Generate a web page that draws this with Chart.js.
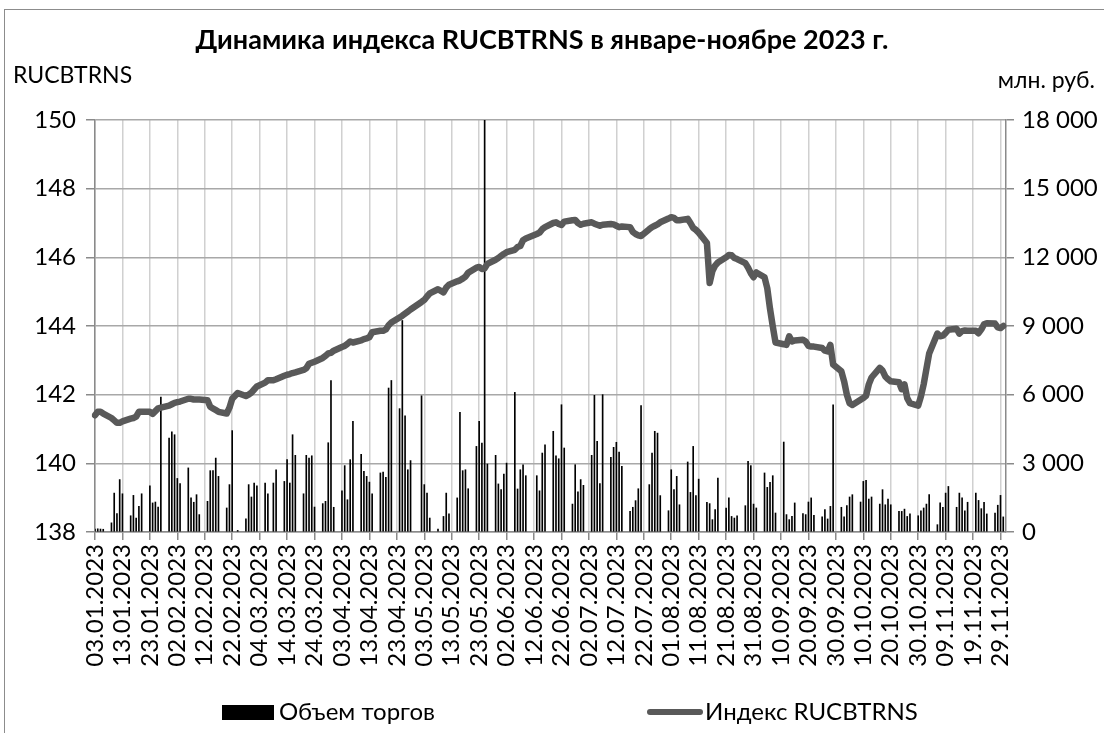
<!DOCTYPE html>
<html lang="ru">
<head>
<meta charset="utf-8">
<title>Динамика индекса RUCBTRNS</title>
<script src="https://cdn.jsdelivr.net/npm/chart.js@4.4.1/dist/chart.umd.min.js"></script>
<style>
  html, body { margin: 0; padding: 0; background: #fff; overflow: hidden; }
  #wrap { position: relative; width: 1104px; height: 733px; }
  #frame { position: absolute; left: 4px; top: 9px; width: 1200px; height: 800px; border: 1px solid #8c8c8c; pointer-events: none; }
</style>
</head>
<body>
<div id="wrap">
  <canvas id="chart" width="1104" height="733"></canvas>
  <div id="frame"></div>
</div>
<script>
// нерабочие будни биржи
const holidays = ['23.02', '08.03', '01.05', '09.05', '12.06'];

// индекс RUCBTRNS по торговым дням, построчно по неделям
const indexValues = [
  141.40, 141.50, 141.50, 141.45,
  141.32, 141.25, 141.18, 141.18, 141.22,
  141.30, 141.32, 141.36, 141.50, 141.50,
  141.50, 141.44, 141.52, 141.60, 141.62,
  141.68, 141.72, 141.76, 141.78, 141.80,
  141.88, 141.88, 141.86, 141.86, 141.86,
  141.84, 141.65, 141.60, 141.55, 141.50,
  141.45, 141.62, 141.88, 142.05,
  141.96, 142.00, 142.06, 142.15, 142.24,
  142.35, 142.42, 142.42, 142.45,
  142.55, 142.58, 142.60, 142.63, 142.65,
  142.72, 142.77, 142.90, 142.93, 142.96,
  143.07, 143.13, 143.20, 143.22, 143.28,
  143.39, 143.42, 143.48, 143.55, 143.52,
  143.58, 143.62, 143.64, 143.67, 143.82,
  143.86, 143.86, 143.90, 144.02, 144.10,
  144.25, 144.30, 144.36, 144.42, 144.48,
  144.70, 144.76, 144.86, 144.95,
  145.07, 144.98, 145.12, 145.20,
  145.30, 145.33, 145.38, 145.44, 145.55,
  145.70, 145.72, 145.66, 145.68, 145.81,
  145.93, 145.98, 146.04, 146.10, 146.15,
  146.22, 146.30, 146.33, 146.50, 146.55,
  146.68, 146.72, 146.82, 146.88,
  147.00, 147.02, 146.97, 146.94, 147.04,
  147.08, 147.09, 147.00, 146.95, 146.98,
  147.02, 146.98, 146.95, 146.92, 146.95,
  146.97, 146.96, 146.92, 146.88, 146.90,
  146.88, 146.74, 146.68, 146.64, 146.62,
  146.82, 146.88, 146.92, 146.96, 147.02,
  147.13, 147.17, 147.15, 147.08, 147.08,
  147.12, 147.00, 146.86, 146.80, 146.72,
  146.42, 145.25, 145.60, 145.76, 145.85,
  146.00, 146.07, 146.06, 145.98, 145.95,
  145.83, 145.70, 145.54, 145.42, 145.56,
  145.42, 145.10, 144.50, 143.99, 143.52,
  143.47, 143.45, 143.70, 143.55, 143.58,
  143.60, 143.55, 143.42, 143.40, 143.40,
  143.36, 143.28, 143.26, 143.45, 142.88,
  142.68, 142.39, 142.00, 141.75, 141.70,
  141.85, 141.90, 141.97, 142.30, 142.50,
  142.78, 142.70, 142.53, 142.45, 142.39,
  142.36, 142.16, 142.30, 141.90, 141.75,
  141.68, 141.95, 142.30, 142.75, 143.20,
  143.78, 143.70, 143.72, 143.80, 143.89,
  143.92, 143.78, 143.85, 143.87, 143.86,
  143.86, 143.79, 143.90, 144.05, 144.08,
  144.07, 143.96, 143.94, 144.00
];

// объем торгов, млн руб.
const volumeValues = [
  130, 140, 130, 120,
  400, 1700, 800, 2290, 1670,
  710, 1600, 610, 1120, 1670,
  2020, 1270, 1310, 1090, 5900,
  4100, 4380, 4250, 2340, 2110,
  2800, 1490, 1300, 1630, 760,
  1340, 2680, 2680, 3230, 2430,
  1050, 2070, 4430, 70,
  570, 2070, 1530, 2140, 2020,
  2140, 1670, 2140, 2720,
  2210, 3160, 2140, 4250, 3350,
  1670, 3350, 3230, 3330, 1090,
  1240, 1340, 3900, 6620, 1080,
  1800, 2900, 1410, 3160, 4830,
  3390, 2650, 2430, 2180, 1670,
  2580, 2620, 2390, 6290, 6620,
  5390, 9240, 5080, 2720, 3120,
  5950, 2070, 1700, 610,
  130, 680, 1700, 790,
  1490, 5230, 2680, 2720, 1890,
  3740, 4830, 3890, 21000, 2970,
  3350, 2100, 1850, 2530, 3010,
  6100, 1880, 2720, 2940, 2460,
  2460, 1800, 3450, 3810,
  4400, 3330, 3200, 5560, 3670,
  1220, 2940, 1750, 2290, 2040,
  3350, 5970, 3960, 2110, 6000,
  3260, 3700, 3920, 3490, 2870,
  900, 1080, 1370, 1890, 5520,
  2070, 3450, 4400, 4320, 1590,
  930, 2720, 1850, 2430, 1190,
  3060, 1730, 3740, 1590, 2310,
  1300, 1240, 540, 980, 2360,
  1050, 1490, 680, 610, 710,
  1150, 3090, 2900, 1220, 1050,
  2580, 1950, 2170, 2460, 830,
  3930, 760, 540, 680, 1270,
  800, 760, 1310, 1490, 730,
  660, 980, 570, 1120, 5560,
  1080, 660, 1150, 1530, 1630,
  1310, 2210, 2260, 1440, 1530,
  1220, 1850, 1190, 1440, 1190,
  900, 900, 1000, 680, 790,
  710, 930, 1050, 1220, 1630,
  320, 1270, 1080, 1700, 1990,
  1080, 1700, 1490, 930, 1300,
  1700, 1380, 1020, 1300, 790,
  830, 1170, 1600, 660
];

const FONT = "Lato, 'Open Sans', sans-serif";
const TITLE = 'Динамика индекса RUCBTRNS в январе-ноябре 2023 г.';

// календарная ось: 03.01.2023 - 01.12.2023
const labels = [];
const tradePos = [];
const lastTrade = new Date(2023, 10, 30);
for (let i = 0; i < 333; i++) {
  const dt = new Date(2023, 0, 3 + i);
  const dm = String(dt.getDate()).padStart(2, '0') + '.' + String(dt.getMonth() + 1).padStart(2, '0');
  labels.push(dm + '.2023');
  const wd = dt.getDay();
  if (wd !== 0 && wd !== 6 && !holidays.includes(dm) && dt <= lastTrade) tradePos.push(i);
}

const volData = labels.map(() => null);
const idxData = labels.map(() => null);
tradePos.forEach((p, k) => { volData[p] = volumeValues[k]; idxData[p] = indexValues[k]; });

const fmt = v => String(v).replace(/\B(?=(\d{3})+(?!\d))/g, ' ');

// заголовок, подписи осей и легенда
const extras = {
  id: 'extras',
  afterDraw(chart) {
    const ctx = chart.ctx;
    ctx.save();
    ctx.fillStyle = '#000';
    ctx.textBaseline = 'middle';

    ctx.font = `bold 27px ${FONT}`;
    ctx.textAlign = 'center';
    ctx.fillText(TITLE, 542, 40);

    ctx.font = `23px ${FONT}`;
    ctx.textAlign = 'left';
    ctx.fillText('RUCBTRNS', 13, 76);
    ctx.textAlign = 'right';
    ctx.fillText('млн. руб.', 1095, 81);

    // легенда
    const y = 712;
    ctx.font = `24px ${FONT}`;
    ctx.textAlign = 'left';
    ctx.fillRect(222, y - 7, 52, 15);
    ctx.fillText(chart.data.datasets[0].label, 279, y);
    ctx.strokeStyle = chart.data.datasets[1].borderColor;
    ctx.lineWidth = 6;
    ctx.lineCap = 'round';
    ctx.beginPath();
    ctx.moveTo(650, y);
    ctx.lineTo(700, y);
    ctx.stroke();
    ctx.fillText(chart.data.datasets[1].label, 705, y);
    ctx.restore();
  }
};

new Chart(document.getElementById('chart'), {
  type: 'bar',
  data: {
    labels: labels,
    datasets: [{
      type: 'bar',
      label: 'Объем торгов',
      data: volData,
      yAxisID: 'y1',
      backgroundColor: '#000',
      barThickness: 1,
      order: 1
    }, {
      type: 'line',
      label: 'Индекс RUCBTRNS',
      data: idxData,
      yAxisID: 'y',
      borderColor: '#595959',
      borderWidth: 6.5,
      pointRadius: 0,
      tension: 0,
      spanGaps: true,
      borderJoinStyle: 'round',
      borderCapStyle: 'round',
      order: 0
    }]
  },
  options: {
    responsive: false,
    animation: false,
    layout: { padding: { left: 0, right: 0, top: 120, bottom: 0 } },
    plugins: {
      legend: { display: false },
      tooltip: { enabled: false },
      title: { display: false }
    },
    scales: {
      x: {
        offset: false,
        grid: {
          offset: false,
          lineWidth: 1.5,
          tickLength: 8,
          color: c => (c.index % 10 === 0 ? '#d0d0d0' : 'transparent'),
          tickColor: c => (c.index % 10 === 0 ? '#8a8a8a' : 'transparent')
        },
        border: { color: '#8a8a8a', width: 1.5 },
        ticks: {
          autoSkip: false,
          minRotation: 90,
          maxRotation: 90,
          padding: 4,
          color: '#000',
          font: { family: FONT, size: 24 },
          callback: (v, i) => (i % 10 === 0 ? labels[i] : '')
        },
        afterFit: s => { s.height = 201; }
      },
      y: {
        position: 'left',
        min: 138,
        max: 150,
        ticks: { stepSize: 2, padding: 10, color: '#000', font: { family: FONT, size: 24 } },
        grid: { color: '#a8a8a8', lineWidth: 1.5, tickLength: 9, tickColor: '#8a8a8a' },
        border: { color: '#8a8a8a', width: 1.5 },
        afterFit: s => { s.width = 95; }
      },
      y1: {
        position: 'right',
        min: 0,
        max: 18000,
        ticks: { stepSize: 3000, padding: 8, color: '#000', font: { family: FONT, size: 24 }, callback: v => fmt(v) },
        grid: { drawOnChartArea: false, lineWidth: 1.5, tickLength: 8, tickColor: '#8a8a8a' },
        border: { color: '#8a8a8a', width: 1.5 },
        afterFit: s => { s.width = 98; }
      }
    }
  },
  plugins: [extras]
});
</script>
</body>
</html>
